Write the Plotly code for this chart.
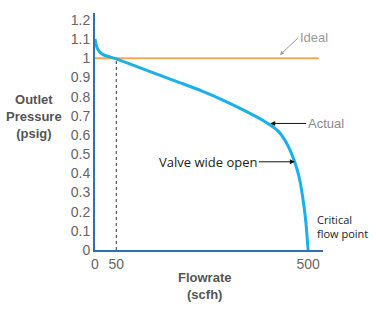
import plotly.graph_objects as go

flow = [0, 4, 10, 20, 50, 100, 150, 200, 250, 300, 350, 400, 430, 450, 470, 480, 490, 495, 500]
pressure = [1.10, 1.06, 1.035, 1.018, 0.997, 0.955, 0.913, 0.872, 0.83, 0.782, 0.728, 0.668, 0.62, 0.555, 0.45, 0.37, 0.235, 0.14, 0.0]

ideal_x = [0, 525]
ideal_y = [1.0, 1.0]

marker_x = [50, 50]
marker_y = [0, 1.0]

y_ticks = [0, 0.1, 0.2, 0.3, 0.4, 0.5, 0.6, 0.7, 0.8, 0.9, 1.0, 1.1, 1.2]
y_ticktext = ["0", "0.1", "0.2", "0.3", "0.4", "0.5", "0.6", "0.7", "0.8", "0.9", "1", "1.1", "1.2"]
x_ticks = [0, 50, 500]
x_ticktext = ["0", "50", "500"]

fig = go.Figure()
fig.add_trace(go.Scatter(x=marker_x, y=marker_y, mode="lines",
                         line=dict(color="#555555", width=1.2, dash="dot"), hoverinfo="skip"))
fig.add_trace(go.Scatter(x=ideal_x, y=ideal_y, mode="lines",
                         line=dict(color="#f7a84b", width=2), hoverinfo="skip"))
fig.add_trace(go.Scatter(x=flow, y=pressure, mode="lines",
                         line=dict(color="#1ab0ea", width=3, shape="spline", smoothing=0.6),
                         hoverinfo="skip"))

tickfont = dict(family="Liberation Sans, Arial", size=14, color="#666666")

fig.update_layout(
    width=376, height=324,
    margin=dict(l=95, r=53, t=13, b=74),
    paper_bgcolor="white", plot_bgcolor="white",
    showlegend=False,
    xaxis=dict(range=[0, 535], tickvals=x_ticks, ticktext=x_ticktext, showgrid=False,
               zeroline=False, showline=True, linecolor="#2e6fb7", linewidth=2,
               ticks="", tickfont=tickfont),
    yaxis=dict(range=[0, 1.236], tickvals=y_ticks, ticktext=y_ticktext, showgrid=False,
               zeroline=False, showline=True, linecolor="#2e6fb7", linewidth=2,
               ticks="", tickfont=tickfont),
)

title_font = dict(family="Liberation Sans, Arial", size=13, color="#555555")
fig.add_annotation(xref="paper", yref="paper", x=-0.268, y=0.565, xanchor="center", yanchor="middle",
                   text="<b>Outlet<br>Pressure<br>(psig)</b>", showarrow=False,
                   font=title_font, align="center")
fig.add_annotation(xref="paper", yref="paper", x=0.482, y=-0.075, xanchor="center", yanchor="top",
                   text="<b>Flowrate<br>(scfh)</b>", showarrow=False,
                   font=title_font, align="center")

# Ideal
fig.add_annotation(x=434, y=1.017, ax=18, ay=-17, text="Ideal", xanchor="left", yanchor="middle",
                   showarrow=True, arrowhead=2, arrowsize=0.8, arrowwidth=1, arrowcolor="#9a9a9a",
                   font=dict(family="Liberation Sans, Arial", size=13, color="#9a9a9a"))
# Actual
fig.add_annotation(x=411, y=0.66, ax=36, ay=0, text="Actual", xanchor="left",
                   showarrow=True, arrowhead=2, arrowsize=1, arrowwidth=1, arrowcolor="#111111",
                   font=dict(family="Liberation Sans, Arial", size=13, color="#8a8a8a"))
# Valve wide open
fig.add_annotation(x=469, y=0.46, ax=-36, ay=0, text="Valve wide open", xanchor="right",
                   showarrow=True, arrowhead=2, arrowsize=1, arrowwidth=1, arrowcolor="#111111",
                   font=dict(family="Open Sans", size=13, color="#222222"))
# Critical flow point
fig.add_annotation(x=516, y=0.12, text="Critical<br>flow point", xanchor="left", align="left",
                   showarrow=False,
                   font=dict(family="Open Sans", size=11, color="#222222"))

fig.write_html("out.html")
